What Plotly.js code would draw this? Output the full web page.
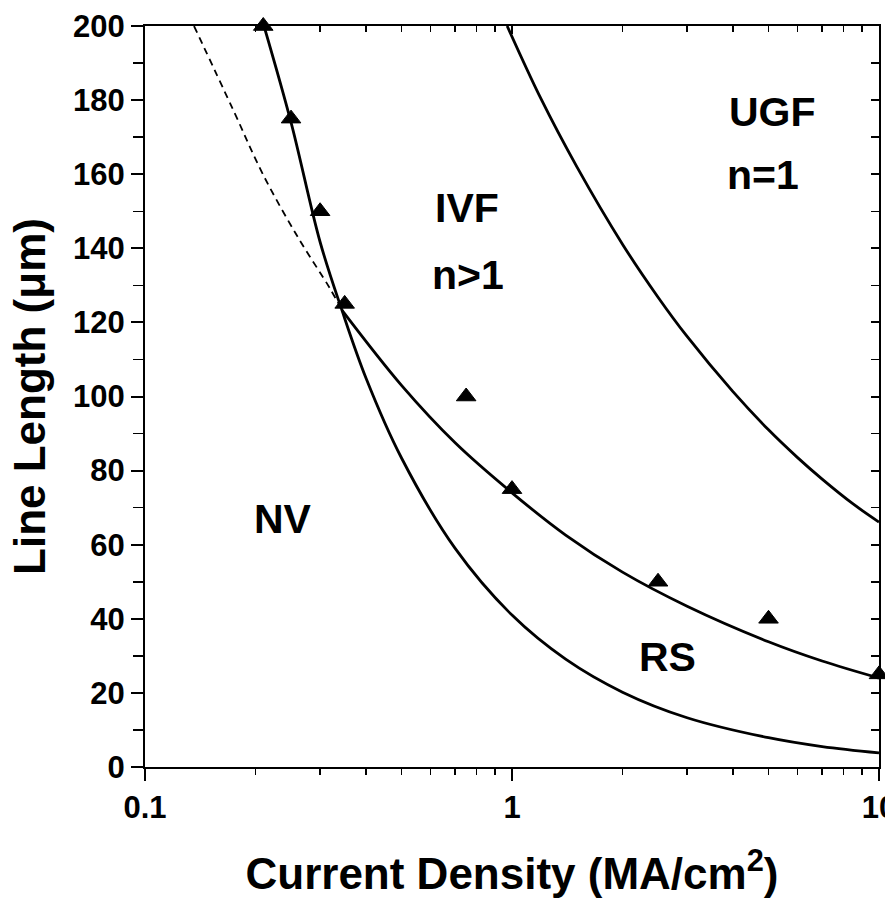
<!DOCTYPE html>
<html>
<head>
<meta charset="utf-8">
<script src="https://cdn.plot.ly/plotly-3.0.1.min.js"></script>
<style>html,body{margin:0;padding:0;background:#fff;}#chart{width:885px;height:899px;}</style>
</head>
<body>
<div id="chart"></div>
<script>
// Measured triangles (current density MA/cm^2, line length um)
const pointsJ = [0.21, 0.25, 0.30, 0.35, 0.75, 1.0, 2.5, 5.0, 10.0];
const pointsL = [200, 175, 150, 125, 100, 75, 50, 40, 25];

// Steep boundary (through triangles, then NV / RS boundary)
const curveAJ = [0.211, 0.25, 0.30, 0.344, 0.40, 0.50, 0.70, 1.0, 1.4, 2.0, 3.0, 5.0, 7.0, 10.0];
const curveAL = [200, 174, 141.7, 123.3, 105, 83.4, 59, 41, 29.1, 20.2, 13.3, 7.9, 5.5, 3.8];

// IVF / RS boundary (solid part)
const curveBJ = [0.344, 0.50, 0.70, 1.0, 1.4, 2.0, 3.0, 5.0, 7.0, 10.0];
const curveBL = [123.3, 103, 87.5, 74, 62.6, 52.6, 43.4, 33.8, 28.6, 24.0];

// Dashed extension of the IVF / RS boundary
const dashJ = [0.136, 0.174, 0.210, 0.262, 0.319, 0.344];
const dashL = [200, 177.3, 159.8, 142.7, 129.2, 123.3];

// UGF boundary
const curveCJ = [0.97, 1.2, 1.5, 2.0, 2.5, 3.0, 4.0, 5.0, 6.0, 7.0, 8.5, 10.0];
const curveCL = [200, 180.3, 162.1, 141.1, 126.8, 116.2, 101.3, 91.0, 83.5, 77.7, 71.0, 66.1];

const xTickVals = [0.1, 1, 10];
const xTickText = ['0.1', '1', '10'];
const xMinorVals = [0.2,0.3,0.4,0.5,0.6,0.7,0.8,0.9,2,3,4,5,6,7,8,9];

const regionLabels = ['NV', 'IVF', 'n>1', 'UGF', 'n=1', 'RS'];

const FONT = 'Liberation Sans, Arial, Helvetica, sans-serif';
const lineStyle = {color: '#000', width: 2.8, shape: 'spline', smoothing: 1};

const traces = [
  {x: curveAJ, y: curveAL, mode: 'lines', line: lineStyle, hoverinfo: 'skip', showlegend: false},
  {x: curveBJ, y: curveBL, mode: 'lines', line: lineStyle, hoverinfo: 'skip', showlegend: false},
  {x: curveCJ, y: curveCL, mode: 'lines', line: lineStyle, hoverinfo: 'skip', showlegend: false},
  {x: dashJ, y: dashL, mode: 'lines', line: {color: '#000', width: 1.8, dash: '7px,5px', shape: 'spline'}, hoverinfo: 'skip', showlegend: false},
  {x: pointsJ, y: pointsL, mode: 'markers', cliponaxis: false,
   marker: {symbol: 'triangle-up', size: 17, color: '#000', line: {color: '#000', width: 1}}, showlegend: false},
  {x: [pointsJ[0]], y: [pointsL[0]], xaxis: 'x2', yaxis: 'y2', mode: 'markers', marker: {opacity: 0}, hoverinfo: 'skip', showlegend: false}
];

const tickFont = {family: FONT, size: 31, color: '#000', weight: 700};
const titleFont = {family: FONT, size: 44, color: '#000', weight: 700};

const annPos = [[283, 519], [467, 208], [468, 275], [772, 112], [763, 175], [667, 657]];
const annotations = regionLabels.map((t, i) => ({
  text: t.replace('>', '&gt;'), xref: 'paper', yref: 'paper',
  x: (annPos[i][0] - 145) / 734, y: (767 - annPos[i][1]) / 741,
  xanchor: 'center', yanchor: 'middle', showarrow: false,
  font: {family: FONT, size: 41, color: '#000', weight: 700}
}));

const layout = {
  width: 885, height: 899,
  margin: {l: 145, r: 6, t: 26, b: 132},
  paper_bgcolor: '#fff', plot_bgcolor: '#fff',
  showlegend: false,
  xaxis: {
    type: 'log', range: [-1, 1],
    tickmode: 'array', tickvals: xTickVals, ticktext: xTickText,
    ticklabeloverflow: 'allow',
    ticks: 'outside', ticklen: 12, tickwidth: 2, tickcolor: '#000',
    minor: {tickmode: 'array', tickvals: xMinorVals, ticks: 'outside', ticklen: 6, tickwidth: 1.5, tickcolor: '#000'},
    showline: true, linewidth: 2, linecolor: '#000', mirror: false,
    showgrid: false, zeroline: false,
    tickfont: tickFont,
    title: {text: 'Current Density (MA/cm<sup>2</sup>)', font: titleFont, standoff: 34}
  },
  yaxis: {
    range: [0, 200], tickmode: 'linear', tick0: 0, dtick: 20,
    ticks: 'outside', ticklen: 12, tickwidth: 2, tickcolor: '#000',
    minor: {dtick: 10, ticks: 'outside', ticklen: 10, tickwidth: 1.5, tickcolor: '#000'},
    showline: true, linewidth: 2, linecolor: '#000',
    showgrid: false, zeroline: false,
    tickfont: tickFont,
    title: {text: 'Line Length (μm)', font: titleFont, standoff: 14}
  },
  xaxis2: {
    type: 'log', range: [-1, 1], overlaying: 'x', side: 'top', anchor: 'y2',
    tickmode: 'array', tickvals: xTickVals, showticklabels: false,
    ticks: 'inside', ticklen: 8, tickwidth: 2, tickcolor: '#000',
    minor: {tickmode: 'array', tickvals: xMinorVals, ticks: 'inside', ticklen: 6, tickwidth: 1.5, tickcolor: '#000'},
    showline: true, linewidth: 2, linecolor: '#000', showgrid: false, zeroline: false
  },
  yaxis2: {
    range: [0, 200], overlaying: 'y', side: 'right', anchor: 'x2',
    tickmode: 'linear', tick0: 0, dtick: 20, showticklabels: false,
    ticks: 'inside', ticklen: 8, tickwidth: 2, tickcolor: '#000',
    minor: {dtick: 10, ticks: 'inside', ticklen: 8, tickwidth: 1.5, tickcolor: '#000'},
    showline: true, linewidth: 2, linecolor: '#000', showgrid: false, zeroline: false
  },
  annotations: annotations
};

Plotly.newPlot('chart', traces, layout, {displayModeBar: false, staticPlot: true});
</script>
</body>
</html>
